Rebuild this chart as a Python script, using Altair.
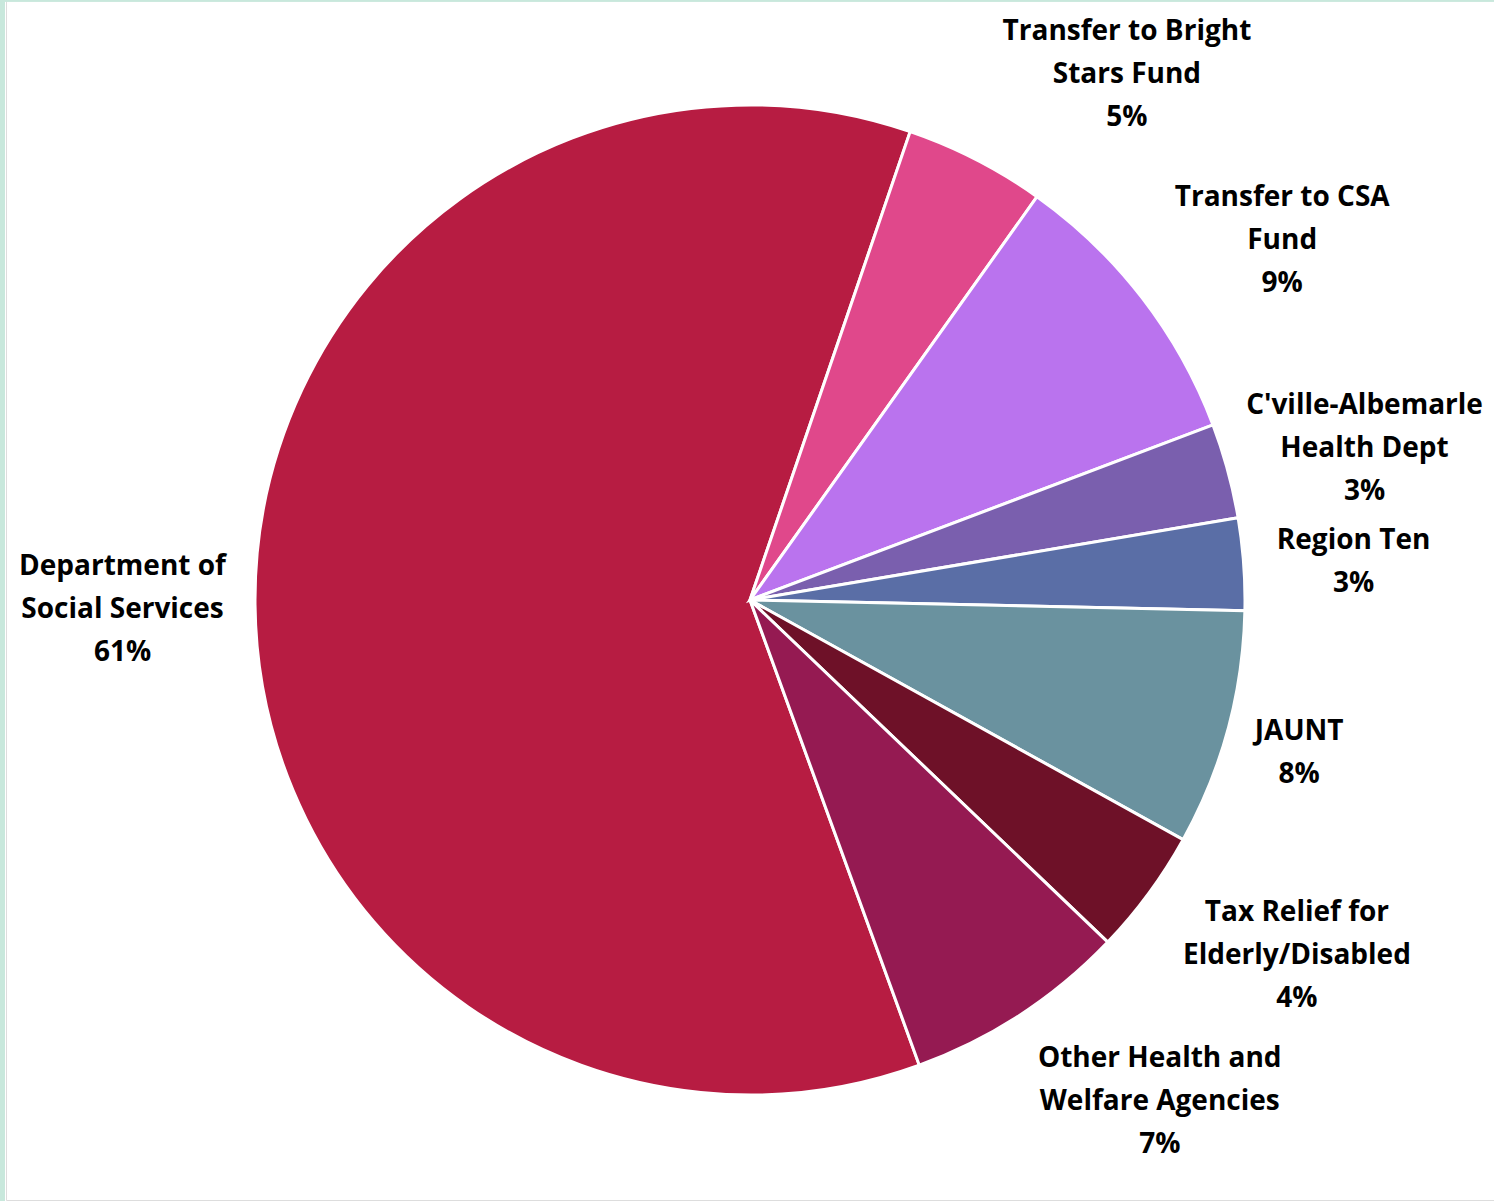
import math
import altair as alt
import pandas as pd

# ---- data ----
categories = [
    "Department of Social Services",
    "Transfer to Bright Stars Fund",
    "Transfer to CSA Fund",
    "C'ville-Albemarle Health Dept",
    "Region Ten",
    "JAUNT",
    "Tax Relief for Elderly/Disabled",
    "Other Health and Welfare Agencies",
]
label_lines = [
    ["Department of", "Social Services"],
    ["Transfer to Bright", "Stars Fund"],
    ["Transfer to CSA", "Fund"],
    ["C'ville-Albemarle", "Health Dept"],
    ["Region Ten"],
    ["JAUNT"],
    ["Tax Relief for", "Elderly/Disabled"],
    ["Other Health and", "Welfare Agencies"],
]
shares = [60.8, 4.6, 9.4, 3.1, 3.0, 7.7, 4.1, 7.3]
colors = ["#B71C42", "#E0488B", "#BA73EE", "#7A5FAE", "#5A6EA6", "#6A929F", "#6E1128", "#951A52"]

total = sum(shares)
texts = [lines + [f"{round(v / total * 100)}%"] for lines, v in zip(label_lines, shares)]
df = pd.DataFrame({
    "category": categories,
    "value": shares,
    "idx": list(range(len(categories))),
    "txt": texts,
    "maxlen": [max(len(s) for s in l) for l in texts],
    "nlines": [len(l) for l in texts],
})

# ---- layout ----
PW, PH = 1488, 1200
CX, CY = PW / 2, PH / 2
RADIUS = 495
A0 = math.radians(160)
R0 = 530
CHAR_W = 15
LINE_H = 43

color_scale = alt.Scale(domain=categories, range=colors)

pie = alt.Chart(df).mark_arc(outerRadius=RADIUS, stroke="white", strokeWidth=3).encode(
    theta=alt.Theta("value:Q", stack=True, scale=alt.Scale(range=[A0, A0 + 2 * math.pi])),
    color=alt.Color("category:N", scale=color_scale, legend=None),
    order=alt.Order("idx:Q"),
)

labels = alt.Chart(df).transform_window(
    cum="sum(value)", sort=[alt.SortField("idx")], frame=[None, 0]
).transform_joinaggregate(
    tot="sum(value)"
).transform_calculate(
    ang=f"{A0} + 2*PI*(datum.cum - datum.value/2)/datum.tot",
    hw=f"datum.maxlen*{CHAR_W}/2",
    hh=f"datum.nlines*{LINE_H}/2",
).transform_calculate(
    px0=f"{CX} + {R0}*sin(datum.ang) + clamp(3*sin(datum.ang), -1, 1)*datum.hw",
    # y of the first line so that the whole block is centred
    py=f"{CY} + 4 - {R0}*cos(datum.ang) - cos(datum.ang)*datum.hh - (datum.nlines-1)*{LINE_H}/2",
).transform_calculate(
    px=f"clamp(datum.px0, datum.hw + 4, {PW} - datum.hw - 2)"
).mark_text(
    font="Open Sans", fontWeight="bold", fontSize=28, lineHeight=LINE_H,
    align="center", baseline="middle", color="black",
).encode(
    x=alt.X("px:Q", scale=None, axis=None),
    y=alt.Y("py:Q", scale=None, axis=None),
    text="txt",
)

left_strip = alt.Chart(df).mark_rule(color="#C8E8DC", strokeWidth=5).encode(
    x=alt.value(-3.5), y=alt.value(0), y2=alt.value(PH + 1)
)
top_line = alt.Chart(df).mark_rule(color="#C8E8DC", strokeWidth=1.5).encode(
    y=alt.value(0.5), x=alt.value(-1), x2=alt.value(PW)
)

chart = alt.layer(pie, labels, left_strip, top_line).properties(
    width=PW, height=PH,
    padding={"left": 6, "top": 0, "right": 0, "bottom": 1},
    autosize=alt.AutoSizeParams(type="none"),
).configure_view(stroke=None).configure(background="white")

chart.save("out.html", embed_options={"renderer": "svg", "actions": False})
